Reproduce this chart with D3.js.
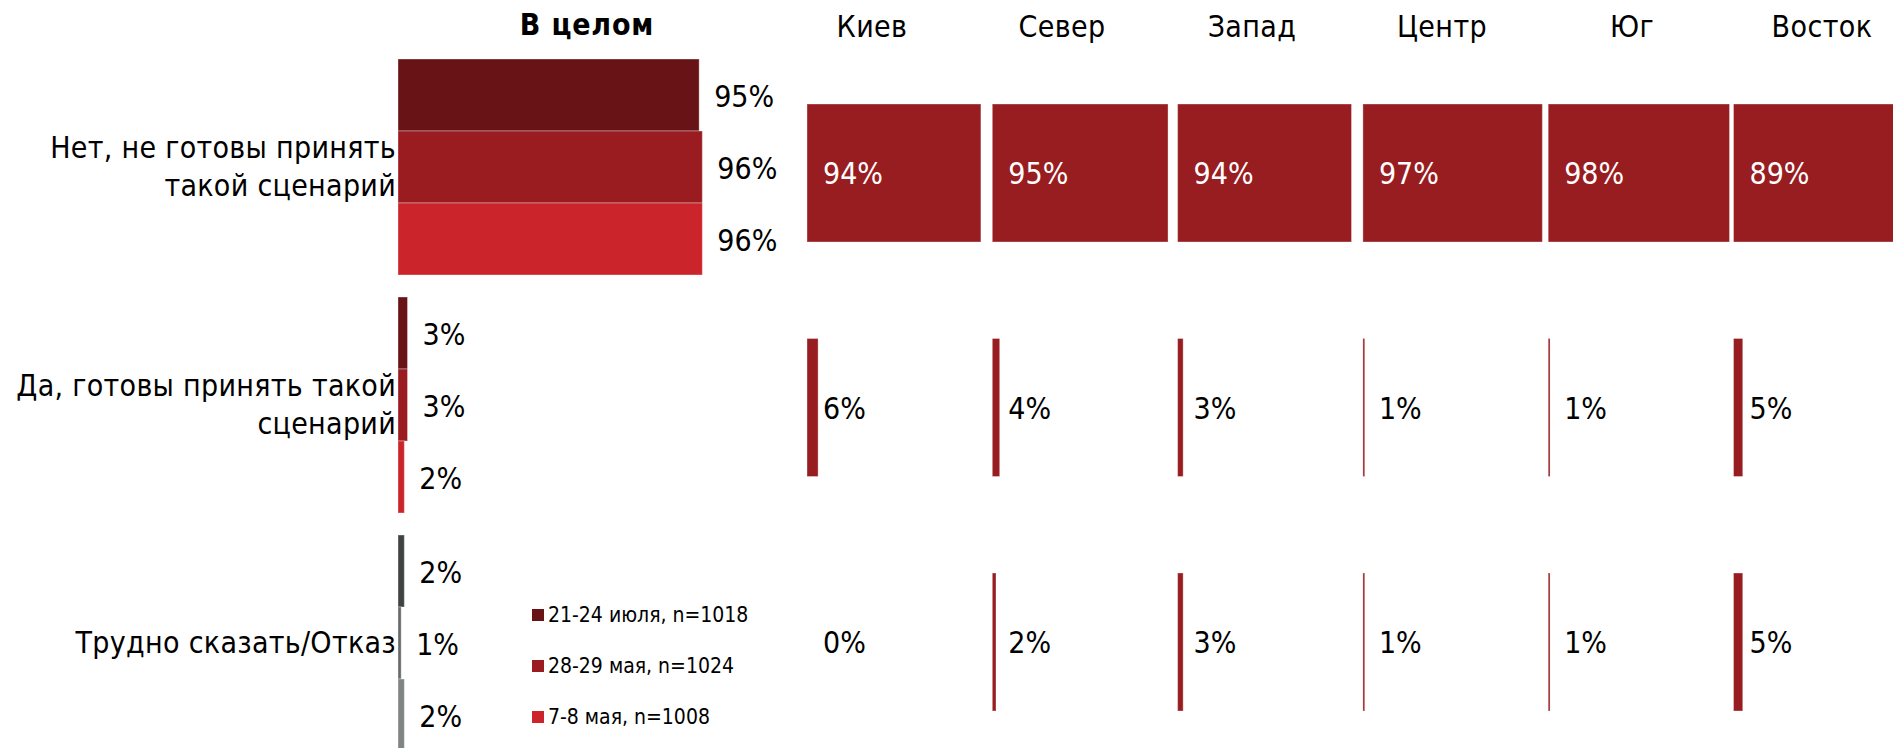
<!DOCTYPE html>
<html>
<head>
<meta charset="utf-8">
<script src="https://cdn.jsdelivr.net/npm/d3@7"></script>
<style>
  body { margin: 0; background: #fff; }
  svg text { font-family: "DejaVu Sans Condensed", "DejaVu Sans", sans-serif; font-stretch: condensed; fill: #000; }
  .bar { stroke: #fff; stroke-opacity: 0.35; stroke-width: 1; }
</style>
</head>
<body>
<svg id="main" width="1893" height="748"></svg>
<script>
// answers (rows) and survey waves (legend)
var answers = ["Нет, не готовы принять такой сценарий", "Да, готовы принять такой сценарий", "Трудно сказать/Отказ"];
var answerLines = [["Нет, не готовы принять", "такой сценарий"], ["Да, готовы принять такой", "сценарий"], ["Трудно сказать/Отказ"]];
var waves = ["21-24 июля, n=1018", "28-29 мая, n=1024", "7-8 мая, n=1008"];

// "В целом" values, one array per answer, in wave order
var totalNo = [95, 96, 96];
var totalYes = [3, 3, 2];
var totalHard = [2, 1, 2];

// regions, latest wave
var regions = ["Киев", "Север", "Запад", "Центр", "Юг", "Восток"];
var regionNo = [94, 95, 94, 97, 98, 89];
var regionYes = [6, 4, 3, 1, 1, 5];
var regionHard = [0, 2, 3, 1, 1, 5];

var redColors = ["#681316", "#9a1c20", "#cb252b"];
var grayColors = ["#404344", "#666a6a", "#7f8584"];
var regionColor = "#981d20";

var svg = d3.select("#main");

var totals = [totalNo, totalYes, totalHard];
var regionVals = [regionNo, regionYes, regionHard];

var scales = {
  group: d3.scaleBand().domain(answers).range([59, 751]).paddingInner(22 / 238),
  regionRow: d3.scaleBand().domain(answers).range([104, 711]).paddingInner((234.5 - 138) / 234.5),
  total: d3.scaleLinear().domain([0, 100]).range([398, 715]),
  region: d3.scaleBand().domain(regions).range([807, 807 + 6 * 185.3]),
  regionVal: d3.scaleLinear().domain([0, 100]).range([0, 185]),
  header: d3.scalePoint().domain(regions).range([872, 1822])
};
scales.wave = d3.scaleBand().domain(waves).range([0, scales.group.bandwidth()]);

var fs = "30px";

// titles
svg.append("text")
  .attr("x", 587).attr("y", 35)
  .attr("text-anchor", "middle")
  .style("font-size", "30px").style("font-weight", "bold")
  .style("letter-spacing", "0.8px")
  .text("В целом");

svg.selectAll("text.header")
  .data(regions)
  .enter()
  .append("text")
  .attr("class", "header")
  .attr("x", function(d) { return scales.header(d); })
  .attr("y", 37)
  .attr("text-anchor", "middle")
  .style("font-size", fs)
  .style("letter-spacing", "0.4px")
  .text(function(d) { return d; });

// left labels
answers.forEach(function(a, i) {
  var lines = answerLines[i];
  var cy = scales.group(a) + scales.group.bandwidth() / 2;
  var t = svg.append("text")
    .attr("text-anchor", "end")
    .style("font-size", fs)
    .style("letter-spacing", "0.3px");
  lines.forEach(function(l, j) {
    t.append("tspan")
      .attr("x", 396)
      .attr("y", cy + 10 + (j - (lines.length - 1) / 2) * 38)
      .text(l);
  });
});

// "В целом" bars
answers.forEach(function(a, i) {
  var g = svg.append("g").attr("transform", "translate(0," + scales.group(a) + ")");
  var colors = i === 2 ? grayColors : redColors;
  var rows = waves.map(function(w, k) { return { wave: w, value: totals[i][k], color: colors[k] }; });

  g.selectAll("rect")
    .data(rows)
    .enter()
    .append("rect")
    .attr("class", "bar")
    .attr("x", scales.total(0))
    .attr("y", function(d) { return scales.wave(d.wave); })
    .attr("width", function(d) { return scales.total(d.value) - scales.total(0); })
    .attr("height", scales.wave.bandwidth())
    .attr("fill", function(d) { return d.color; });

  g.selectAll("text")
    .data(rows)
    .enter()
    .append("text")
    .attr("x", function(d) { return scales.total(d.value) + 15; })
    .attr("y", function(d) { return scales.wave(d.wave) + scales.wave.bandwidth() / 2 + 12; })
    .style("font-size", fs)
    .text(function(d) { return d.value + "%"; });
});

// region bars
answers.forEach(function(a, i) {
  var top = scales.regionRow(a);
  var h = scales.regionRow.bandwidth();
  var rows = regions.map(function(r, k) { return { region: r, value: regionVals[i][k] }; });
  var g = svg.append("g");

  g.selectAll("rect")
    .data(rows.filter(function(d) { return d.value > 0; }))
    .enter()
    .append("rect")
    .attr("class", "bar")
    .attr("x", function(d) { return scales.region(d.region); })
    .attr("y", top)
    .attr("width", function(d) { return scales.regionVal(d.value); })
    .attr("height", h)
    .attr("fill", regionColor);

  g.selectAll("text")
    .data(rows)
    .enter()
    .append("text")
    .attr("x", function(d) { return scales.region(d.region) + 16; })
    .attr("y", top + h / 2 + 11)
    .style("font-size", fs)
    .style("fill", i === 0 ? "#fff" : "#000")
    .text(function(d) { return d.value + "%"; });
});

// legend
var legend = svg.append("g").attr("transform", "translate(532,0)");
var legendY = d3.scalePoint().domain(waves).range([622, 724]);
legend.selectAll("rect")
  .data(waves)
  .enter()
  .append("rect")
  .attr("x", 0)
  .attr("y", function(d) { return legendY(d) - 13; })
  .attr("width", 12).attr("height", 12)
  .attr("fill", function(d, i) { return redColors[i]; });
legend.selectAll("text")
  .data(waves)
  .enter()
  .append("text")
  .attr("x", 16)
  .attr("y", function(d) { return legendY(d); })
  .style("font-size", "21px")
  .text(function(d) { return d; });
</script>
</body>
</html>
